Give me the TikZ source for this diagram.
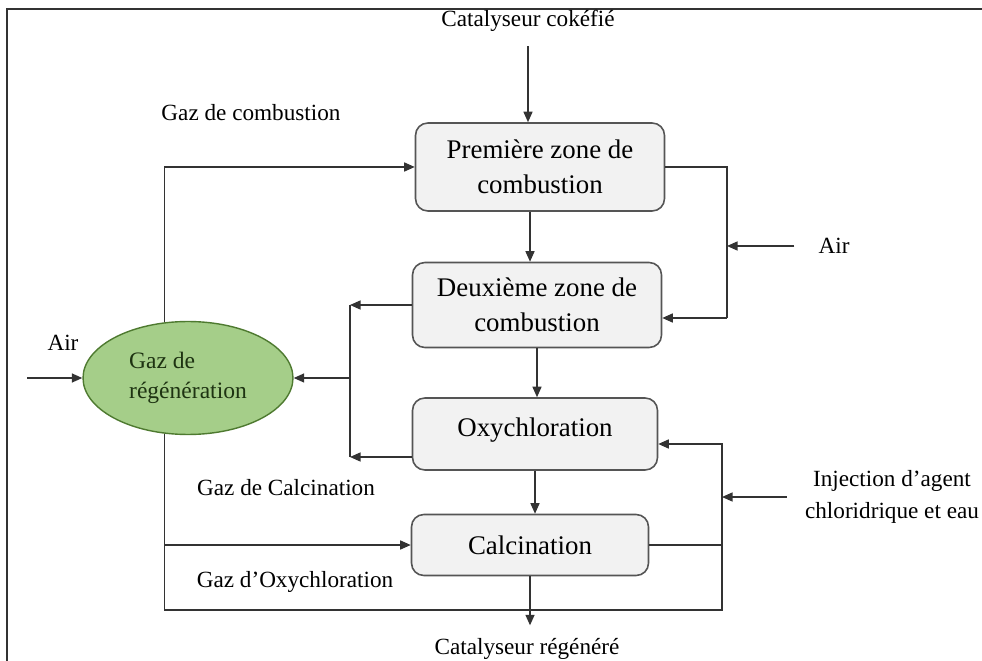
\documentclass[tikz,border=0pt]{standalone}
\usepackage{fontspec}
\setmainfont{Liberation Serif}
\usetikzlibrary{arrows.meta, positioning, shapes.geometric, calc}
\definecolor{zonefill}{HTML}{F2F2F2}
\definecolor{zoneline}{HTML}{555555}
\definecolor{ovalfill}{HTML}{A5CE89}
\definecolor{ovalline}{HTML}{4E7A30}
\definecolor{ovaltext}{HTML}{1E3312}
\definecolor{pipeline}{HTML}{333333}
\tikzset{
  zonebox/.style={
    draw=zoneline, rounded corners=7pt, line width=0.9pt, align=center,
    font=\fontsize{15.3}{19.8}\selectfont, fill=zonefill, inner sep=0pt
  },
  gasoval/.style={
    ellipse, draw=ovalline, fill=ovalfill, line width=0.8pt, align=left,
    font=\fontsize{13.4}{17}\selectfont, text=ovaltext, inner sep=0pt
  },
  flowlabel/.style={font=\fontsize{13.2}{18}\selectfont, align=center, inner sep=1pt},
  pipe/.style={line width=0.8pt, draw=pipeline},
  flow/.style={pipe, -{Triangle[length=2.1mm, width=1.8mm]}},
}

\begin{document}
\begin{tikzpicture}[x=0.02cm, y=-0.02cm]
  \useasboundingbox (0,0) rectangle (982,661);
  % frame
  \draw[line width=1.2pt, black!80] (7,661) -- (7,9) -- (982,9);

  % Regeneration zones
  \node[zonebox, minimum width=4.98cm, minimum height=1.76cm] (zone1) at (540,167) {Première zone de\\combustion};
  \node[zonebox, minimum width=4.98cm, minimum height=1.70cm] (zone2) at (537,305) {Deuxième zone de\\combustion};
  \node[zonebox, minimum width=4.90cm, minimum height=1.44cm, text depth=0.28cm] (oxy) at (535,434) {Oxychloration};
  \node[zonebox, minimum width=4.74cm, minimum height=1.22cm] (calcin) at (530,545) {Calcination};

  % Regeneration gas
  \node[gasoval, minimum width=4.2cm, minimum height=2.26cm] (regen) at (188,378) {Gaz de\\régénération};

  % Labels
  \node[flowlabel] (cokin) at (528,21) {Catalyseur cokéfié};
  \node[flowlabel] (combgas) at (251,113) {Gaz de combustion};
  \node[flowlabel] (airleft) at (63,343) {Air};
  \node[flowlabel] (airright) at (834,246) {Air};
  \node[flowlabel] (calcgas) at (286,488) {Gaz de Calcination};
  \node[flowlabel] (oxygas) at (295,582) {Gaz d’Oxychloration};
  \node[flowlabel] (inject) at (892,497) {Injection d’agent\\chloridrique et eau};
  \node[flowlabel] (regout) at (527,649) {Catalyseur régénéré};

  % Junctions
  \coordinate (airin) at (27,378);
  \coordinate (lbus) at (350,0);
  \coordinate (ubus) at (727,0);
  \coordinate (rbus) at (722,0);
  \coordinate (botrow) at (0,610);
  \coordinate (zone2in) at ([yshift=-0.26cm]zone2.east);
  \coordinate (oxyin) at ([yshift=-0.2cm]oxy.east);
  \coordinate (oxyout) at ([yshift=-0.46cm]oxy.west);

  % Main catalyst path
  \draw[flow, shorten <=0.25cm] (cokin.south) -- (cokin.south |- zone1.north);
  \draw[flow] ([xshift=-0.2cm]zone1.south) -- ([xshift=-0.2cm]zone1.south |- zone2.north);
  \draw[flow] (zone2.south) -- (zone2.south |- oxy.north);
  \draw[flow] (oxy.south) -- (oxy.south |- calcin.north);
  \draw[flow, shorten >=0.22cm] (calcin.south) -- (calcin.south |- regout.north);

  % Air to combustion zones
  \draw[pipe] (zone1.east) -- (zone1.east -| ubus) -- (ubus |- zone2in);
  \draw[flow] (ubus |- zone2in) -- (zone2in);
  \draw[flow, shorten <=0.44cm] (airright.west) -- (airright.west -| ubus);

  % Gases back to regeneration gas
  \draw[flow] (zone2.west) -- (zone2.west -| lbus);
  \draw[flow] (oxyout) -- (oxyout -| lbus);
  \draw[pipe] (zone2.west -| lbus) -- (oxyout -| lbus);
  \draw[flow] (lbus |- regen.east) -- (regen.east);
  \draw[flow] (airin) -- (regen.west);

  % Regeneration gas to zones
  \draw[flow] (regen.113) |- (zone1.west);
  \draw[flow] (regen.247) -- (regen.247 |- botrow) -- (rbus |- botrow) -- (rbus |- oxyin) -- (oxyin);
  \draw[flow] (regen.247 |- calcin.west) -- (calcin.west);
  \draw[pipe] (calcin.east) -- (calcin.east -| rbus);
  \draw[flow, shorten <=0.32cm] (inject.west) -- (inject.west -| rbus);
\end{tikzpicture}
\end{document}
